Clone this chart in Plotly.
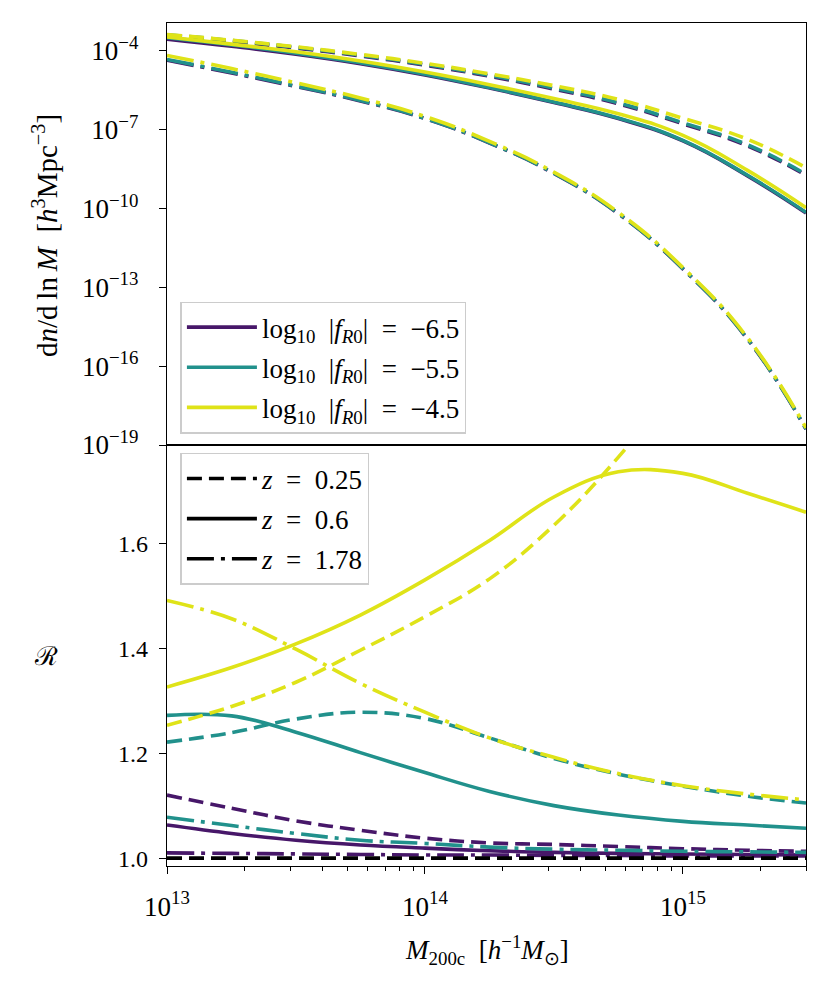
import plotly.graph_objects as go

# halo mass grid [h^-1 Msun]
mass = [1.0e13, 1.78e13, 3.16e13, 5.62e13, 1.0e14, 1.78e14, 3.16e14, 5.62e14, 1.0e15, 1.78e15, 3.0e15]

# top panel: log10 dn/dlnM  (fR0 = -6.5, -5.5, -4.5 ; z = 0.25, 0.6, 1.78)
lognm_65_z025 = [-3.43, -3.65, -3.90, -4.20, -4.55, -4.97, -5.46, -6.02, -6.78, -7.62, -8.74]
lognm_65_z06 = [-3.56, -3.83, -4.13, -4.49, -4.92, -5.42, -5.97, -6.58, -7.43, -8.76, -10.17]
lognm_65_z178 = [-4.36, -4.85, -5.36, -5.91, -6.58, -7.51, -8.67, -10.20, -12.30, -14.97, -18.40]
lognm_55_z025 = [-3.39, -3.61, -3.87, -4.17, -4.52, -4.94, -5.42, -5.98, -6.74, -7.58, -8.70]
lognm_55_z06 = [-3.50, -3.78, -4.09, -4.46, -4.89, -5.40, -5.95, -6.56, -7.41, -8.74, -10.15]
lognm_55_z178 = [-4.33, -4.82, -5.34, -5.89, -6.57, -7.50, -8.66, -10.19, -12.29, -14.96, -18.39]
lognm_45_z025 = [-3.38, -3.60, -3.85, -4.14, -4.48, -4.88, -5.33, -5.85, -6.57, -7.37, -8.45]
lognm_45_z06 = [-3.48, -3.75, -4.04, -4.39, -4.81, -5.29, -5.82, -6.40, -7.22, -8.55, -9.97]
lognm_45_z178 = [-4.18, -4.68, -5.22, -5.80, -6.50, -7.45, -8.62, -10.15, -12.25, -14.92, -18.35]

# bottom panel: ratio R to GR
ratio_65_z025 = [1.120, 1.095, 1.071, 1.053, 1.038, 1.029, 1.026, 1.022, 1.018, 1.015, 1.013]
ratio_65_z06 = [1.063, 1.047, 1.034, 1.025, 1.019, 1.014, 1.011, 1.009, 1.008, 1.007, 1.006]
ratio_65_z178 = [1.010, 1.009, 1.008, 1.007, 1.006, 1.006, 1.005, 1.005, 1.004, 1.004, 1.004]
ratio_55_z025 = [1.221, 1.239, 1.265, 1.278, 1.266, 1.229, 1.190, 1.160, 1.137, 1.118, 1.105]
ratio_55_z06 = [1.272, 1.271, 1.240, 1.201, 1.163, 1.127, 1.100, 1.082, 1.070, 1.063, 1.057]
ratio_55_z178 = [1.078, 1.062, 1.047, 1.034, 1.028, 1.021, 1.017, 1.015, 1.013, 1.012, 1.011]
ratio_45_z025 = [1.253, 1.289, 1.335, 1.396, 1.460, 1.532, 1.634, 1.764, 1.920, 2.100, 2.300]
ratio_45_z06 = [1.326, 1.363, 1.408, 1.463, 1.530, 1.605, 1.688, 1.736, 1.733, 1.695, 1.659]
ratio_45_z178 = [1.491, 1.456, 1.398, 1.333, 1.278, 1.229, 1.192, 1.161, 1.138, 1.122, 1.111]

fr0_labels = ["−6.5", "−5.5", "−4.5"]
z_labels = ["0.25", "0.6", "1.78"]
colors = ["#471769", "#21918c", "#dfe318"]
dashes = ["15px,7px", "solid", "27px,7px,4px,7px"]

x_ticks = [1e13, 1e14, 1e15]
x_ticktext = ["10<sup>13</sup>", "10<sup>14</sup>", "10<sup>15</sup>"]
y_ticks = [1e-19, 1e-16, 1e-13, 1e-10, 1e-7, 1e-4]
y_ticktext = ["10<sup>−19</sup>", "10<sup>−16</sup>", "10<sup>−13</sup>",
              "10<sup>−10</sup>", "10<sup>−7</sup>", "10<sup>−4</sup>"]
x_minor = [k * 1e13 for k in range(2, 10)] + [k * 1e14 for k in range(2, 10)] + [2e15, 3e15]

top = [[lognm_65_z025, lognm_65_z06, lognm_65_z178],
       [lognm_55_z025, lognm_55_z06, lognm_55_z178],
       [lognm_45_z025, lognm_45_z06, lognm_45_z178]]
bottom = [[ratio_65_z025, ratio_65_z06, ratio_65_z178],
          [ratio_55_z025, ratio_55_z06, ratio_55_z178],
          [ratio_45_z025, ratio_45_z06, ratio_45_z178]]

FONT = "Liberation Serif"
LW = 3.6
SP = "\u2002"  # en space, to get math-like spacing

fig = go.Figure()
for i in range(3):
    for j in range(3):
        fig.add_trace(go.Scatter(x=mass, y=[10 ** v for v in top[i][j]], mode="lines",
                                 line=dict(color=colors[i], width=LW, dash=dashes[j],
                                           shape="spline", smoothing=1.3),
                                 xaxis="x2", yaxis="y2", showlegend=False))
        fig.add_trace(go.Scatter(x=mass, y=bottom[i][j], mode="lines",
                                 line=dict(color=colors[i], width=LW, dash=dashes[j],
                                           shape="spline", smoothing=1.1),
                                 xaxis="x", yaxis="y", showlegend=False))

# GR reference
fig.add_trace(go.Scatter(x=[mass[0], mass[-1]], y=[1.0, 1.0], mode="lines",
                         line=dict(color="black", width=LW, dash="15px,7px"),
                         xaxis="x", yaxis="y", showlegend=False))

# legend handles
for i in range(3):
    fig.add_trace(go.Scatter(x=[None], y=[None], mode="lines",
                             line=dict(color=colors[i], width=LW),
                             name="log<sub>10</sub>" + SP + "|<i>f</i><sub><i>R</i>0</sub>|" + SP + "=" + SP + fr0_labels[i],
                             legend="legend", legendgroup="f%d" % i, xaxis="x2", yaxis="y2"))
for j in range(3):
    fig.add_trace(go.Scatter(x=[None], y=[None], mode="lines",
                             line=dict(color="black", width=LW, dash=dashes[j]),
                             name="<i>z</i>" + SP + "=" + SP + z_labels[j],
                             legend="legend2", legendgroup="z%d" % j, xaxis="x", yaxis="y"))

axis_common = dict(showline=True, linecolor="black", linewidth=1.3, mirror=True,
                   tickcolor="black", tickwidth=1.3, ticklen=7, automargin=False,
                   showgrid=False, zeroline=False)
tickfont_big = dict(family=FONT, size=27, color="black")

legend_common = dict(bgcolor="rgba(255,255,255,0.8)", bordercolor="#cccccc", borderwidth=1.5,
                     font=dict(family=FONT, size=27, color="black"), xanchor="left", yanchor="top",
                     itemwidth=70, traceorder="grouped", tracegroupgap=2)

# the page body adds an 8px offset, so margins are shifted to compensate
fig.update_layout(
    width=831, height=989,
    margin=dict(l=159, r=33, t=15, b=131),
    plot_bgcolor="white", paper_bgcolor="white",
    xaxis=dict(type="log", range=[13, 15.4771], domain=[0, 1], anchor="y", ticks="outside",
               tickmode="array", tickvals=x_ticks, ticktext=x_ticktext,
               minor=dict(tickmode="array", tickvals=x_minor, ticks="outside",
                          ticklen=4, tickwidth=1, tickcolor="black"),
               ticklabelstandoff=9, tickfont=tickfont_big, **axis_common),
    yaxis=dict(range=[0.985, 1.787], domain=[0, 0.4994], anchor="x", ticks="outside",
               dtick=0.2, tick0=1.0, tickformat=".1f", ticklabelstandoff=6,
               tickfont=dict(family=FONT, size=24, color="black"), **axis_common),
    xaxis2=dict(type="log", range=[13, 15.4771], domain=[0, 1], anchor="y2",
                ticks="", showticklabels=False, **axis_common),
    yaxis2=dict(type="log", range=[-19, -2.945], domain=[0.4994, 1], anchor="x2", ticks="outside",
                tickmode="array", tickvals=y_ticks, ticktext=y_ticktext,
                ticklabelstandoff=15, tickfont=tickfont_big, **axis_common),
    legend=dict(x=0.021, y=0.6695, **legend_common),
    legend2=dict(x=0.021, y=0.490, **legend_common),
    showlegend=True,
)

fig.add_annotation(text="d<i>n</i>/d" + "\u2009ln\u2009<i>M</i>" + SP + "[<i>h</i><sup>3</sup>Mpc<sup>−3</sup>]",
                   xref="paper", yref="paper", x=-0.19, y=0.748, textangle=-90,
                   xanchor="center", yanchor="middle",
                   showarrow=False, font=dict(family=FONT, size=29, color="black"))
fig.add_annotation(text="ℛ", xref="paper", yref="paper", x=-0.19, y=0.248,
                   xanchor="center", yanchor="middle",
                   showarrow=False, font=dict(family=FONT, size=26, color="black"))
fig.add_annotation(text="<i>M</i><sub>200c</sub>" + SP + "[<i>h</i><sup>−1</sup><i>M</i><sub>⊙</sub>]",
                   xref="paper", yref="paper", x=0.5, y=-0.0995, yanchor="middle",
                   showarrow=False, font=dict(family=FONT, size=27, color="black"))

fig.write_html("out.html")
